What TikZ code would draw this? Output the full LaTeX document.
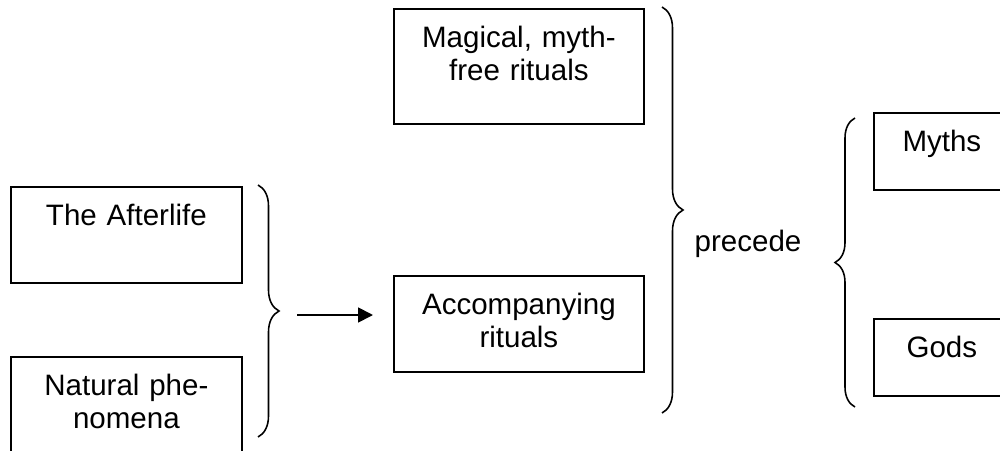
\documentclass[tikz,border=0pt]{standalone}
\usepackage{fontspec}
\setmainfont{Liberation Sans}
\usetikzlibrary{decorations.pathreplacing,arrows.meta}

\begin{document}
\begin{tikzpicture}[
    font=\fontsize{16.8pt}{18.3pt}\selectfont,
    line width=1pt,
    box/.style={draw,anchor=north west,align=center,inner xsep=0pt,
                inner ysep=0pt,text height=0.78cm},
    brace/.style={decorate,decoration={brace,amplitude=0.42cm},line width=0.9pt}]
\clip (0,0) rectangle (20,9);

\node [box,text width=4.62cm,text depth=1.14cm] (afterlife) at ( 0.2,5.28) {The Afterlife};
\node [box,text width=4.62cm,text depth=2.00cm] (natural)   at ( 0.2,1.88) {Natural phe-\\ nomena};
\node [box,text width=5.00cm,text depth=1.52cm] (magical)   at (7.86,8.84) {Magical, myth-\\ free rituals};
\node [box,text width=5.00cm,text depth=1.14cm] (accomp)    at (7.86,3.50) {Accompanying\\ rituals};
\node [box,text width=2.72cm,text depth=0.76cm] (myths)     at (17.46,6.76) {Myths};
\node [box,text width=2.72cm,text depth=0.76cm] (gods)      at (17.46,2.64) {Gods};
\node [anchor=base]                             (precede)   at (14.96,3.96) {precede};

\coordinate (lefttop)   at ( 5.16,5.30);
\coordinate (leftbot)   at ( 5.16,0.26);
\coordinate (midtop)    at (13.24,8.86);
\coordinate (midbot)    at (13.24,0.74);
\coordinate (righttop)  at (17.10,6.64);
\coordinate (rightbot)  at (17.10,0.86);
\coordinate (arrowfrom) at ( 5.94,2.70);
\coordinate (arrowto)   at ( 7.46,2.70);

\draw [brace] (lefttop) -- (leftbot);
\draw [brace] (midtop) -- (midbot);
\draw [brace,decoration={amplitude=0.4cm}] (rightbot) -- (righttop);
\draw [-{Triangle[length=0.3cm,width=0.3cm]}] (arrowfrom) -- (arrowto);
\end{tikzpicture}
\end{document}
